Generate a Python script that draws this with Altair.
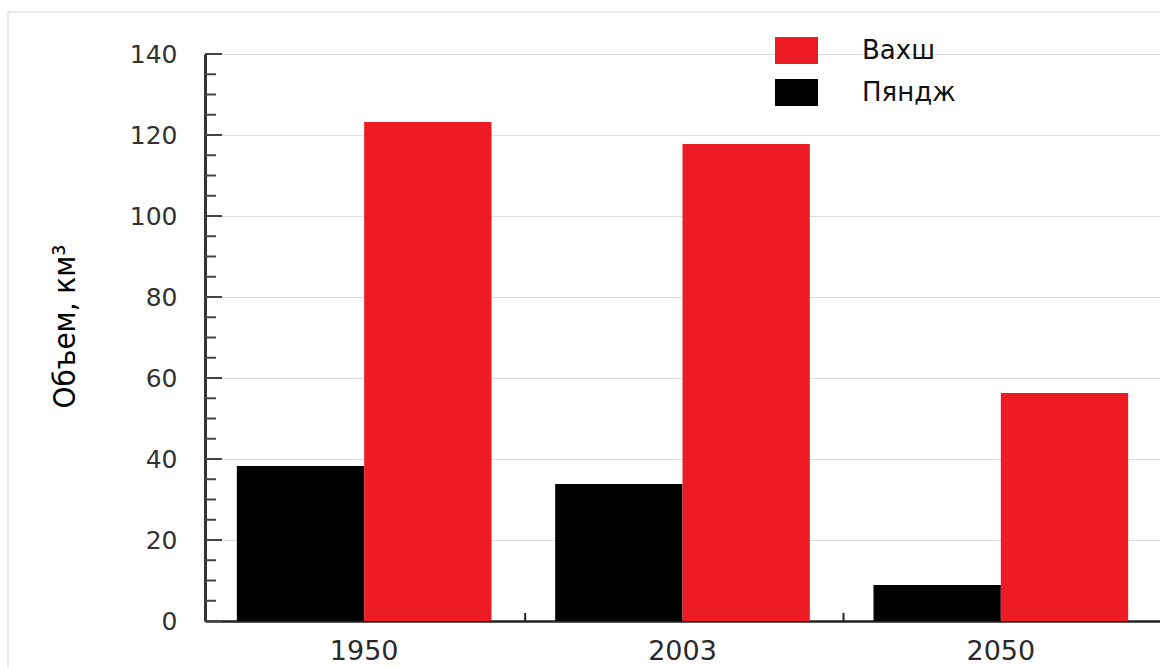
import altair as alt
import pandas as pd

years = ["1950", "2003", "2050"]
rivers = ["Пяндж", "Вахш"]
pyandzh = [38.3, 33.8, 8.9]
vakhsh = [123.2, 117.8, 56.3]
minor_ticks = list(range(0, 145, 5))
major_ticks = list(range(0, 141, 20))
boundaries = ["2003", "2050"]

rows = []
for i, y in enumerate(years):
    rows.append({"year": y, "river": "Пяндж", "value": pyandzh[i]})
    rows.append({"year": y, "river": "Вахш", "value": vakhsh[i]})
df = pd.DataFrame(rows)

yscale = alt.Scale(domain=[0, 140], nice=False)
xscale = alt.Scale(paddingInner=0.2, paddingOuter=0.1)
ytitle = "Объем, км³"

yaxis = alt.Axis(title=ytitle, values=major_ticks, ticks=False,
                 labelFont="DejaVu Sans", labelFontSize=25,
                 labelColor="#333", labelPadding=28,
                 titleFont="'DejaVu Sans Condensed', 'Liberation Sans Narrow', 'Arial Narrow', Roboto, sans-serif",
                 titleFontSize=31,
                 titleFontWeight="normal", titleColor="#000",
                 titleX=-140, titleY=272, titleAlign="center", titleBaseline="middle",
                 titleAngle=270,
                 domainColor="#333", domainWidth=3,
                 grid=True, gridColor="#dcdcdc", gridWidth=1.2)
xaxis = alt.Axis(title=None, labelAngle=0, ticks=False,
                 labelFont="DejaVu Sans", labelFontSize=27,
                 labelColor="#2a2a2a", labelPadding=17,
                 domainColor="#222", domainWidth=2.5, grid=False)

bars = alt.Chart(df).mark_bar().encode(
    x=alt.X("year:N", scale=xscale, sort=years, axis=xaxis, title=None),
    xOffset=alt.XOffset("river:N", sort=["Пяндж", "Вахш"],
                        scale=alt.Scale(paddingInner=0, paddingOuter=0)),
    y=alt.Y("value:Q", scale=yscale, axis=yaxis, title=ytitle),
    color=alt.Color("river:N", scale=alt.Scale(domain=["Вахш", "Пяндж"],
                                               range=["#ed1c24", "#000000"]),
                    legend=alt.Legend(title=None, orient="none", legendX=570, legendY=-25,
                                      symbolType="M-1,-0.63H1V0.63H-1Z", symbolSize=1849,
                                      symbolStrokeWidth=0, symbolOpacity=1,
                                      labelFont="DejaVu Sans", labelFontSize=26,
                                      labelColor="#111", labelOffset=44,
                                      rowPadding=6, padding=0)),
)

minor_df = pd.DataFrame({"value": minor_ticks})
major_df = pd.DataFrame({"value": major_ticks})

minor = alt.Chart(minor_df).mark_rule(color="#444", strokeWidth=2).encode(
    y=alt.Y("value:Q", scale=yscale, axis=yaxis, title=ytitle),
    x=alt.value(0), x2=alt.value(11))
major = alt.Chart(major_df).mark_rule(color="#444", strokeWidth=2).encode(
    y=alt.Y("value:Q", scale=yscale, axis=yaxis, title=ytitle),
    x=alt.value(0), x2=alt.value(17))

bdf = pd.DataFrame({"year": boundaries})
xticks = alt.Chart(bdf).mark_rule(color="#222", strokeWidth=2, xOffset=-30).encode(
    x=alt.X("year:N", scale=xscale, sort=years, bandPosition=0, axis=xaxis, title=None),
    y=alt.value(559), y2=alt.value(567))

frame = alt.Chart(pd.DataFrame({"a": [0]})).mark_rect(
    fill=None, stroke="#e3e3e3", strokeWidth=1.5).encode(
    x=alt.value(-197), x2=alt.value(1000), y=alt.value(-42), y2=alt.value(700))

chart = alt.layer(frame, bars, minor, major, xticks).properties(
    width=955, height=567,
    padding={"left": 205, "top": 54, "right": 0, "bottom": 47},
    autosize=alt.AutoSizeParams(type="none"),
).configure_view(stroke=None).configure(background="white")

chart.save("out.html", embed_options={"renderer": "svg", "actions": False})
